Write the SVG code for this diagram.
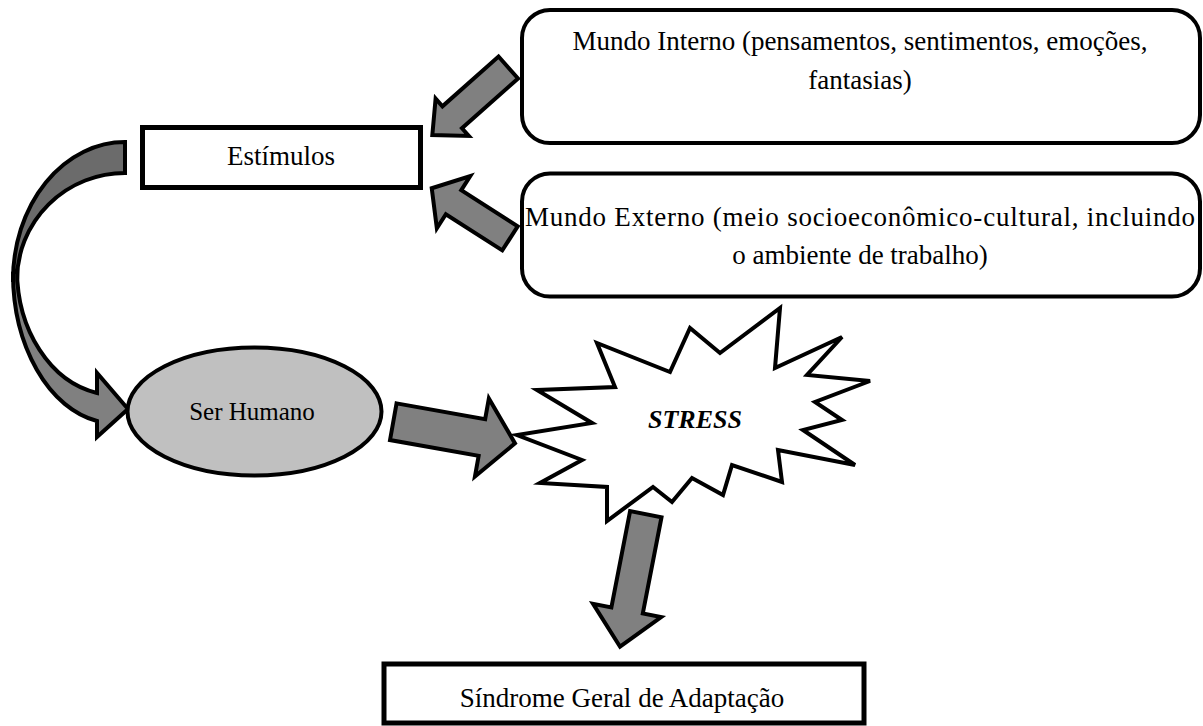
<svg xmlns="http://www.w3.org/2000/svg" width="1203" height="726" viewBox="0 0 1203 726">
  <style>
    .box { fill: #ffffff; stroke: #000000; stroke-width: 4; }
    .sq { fill: #ffffff; stroke: #000000; stroke-width: 5; }
    .arrow { fill: #808080; stroke: #000000; stroke-width: 4; stroke-linejoin: miter; }
    .arrow-back { fill: #6b6b6b; stroke: #000000; stroke-width: 4; }
    .lbl { font-family: "Liberation Serif", "Times New Roman", serif; font-size: 27px; fill: #000000; text-anchor: middle; }
    .burst-lbl { font-family: "Liberation Serif", "Times New Roman", serif; font-size: 26px; font-weight: bold; font-style: italic; fill: #000000; text-anchor: middle; }
  </style>
  <rect width="1203" height="726" fill="#ffffff"/>

  <!-- connectors: block arrows -->
  <g id="connectors">
    <!-- curved arrow from Estímulos down to Ser Humano -->
    <path class="arrow-back" d="M125,142 A112,138 0 0 0 13,280 L17,280 A108,107 0 0 1 125,173 Z"/>
    <path class="arrow" d="M13,273 A102,150 0 0 0 97,421 L97,437 L128,409 L97,373 L97,393 A98,125 0 0 1 17,270 Z"/>
    <!-- Mundo Interno -> Estímulos -->
    <polygon class="arrow" transform="translate(508.3,67.5) rotate(138.4)" points="0,-14.7 75,-14.7 75,-25 101.6,0 75,25 75,14.7 0,14.7"/>
    <!-- Mundo Externo -> Estímulos -->
    <polygon class="arrow" transform="translate(510,238.3) rotate(212.6)" points="0,-14.3 67,-14.3 67,-31 92.9,0 67,31 67,14.3 0,14.3"/>
    <!-- Ser Humano -> STRESS -->
    <polygon class="arrow" transform="translate(393.3,421.7) rotate(10.1)" points="0,-18.6 90,-18.6 90,-39.7 123.6,0 90,39.7 90,18.6 0,18.6"/>
    <!-- STRESS -> Síndrome Geral de Adaptação -->
    <polygon class="arrow" transform="translate(645.8,514.2) rotate(101)" points="0,-16 98,-16 98,-34.7 135,0 98,34.7 98,16 0,16"/>
  </g>

  <g id="mundo-interno">
    <rect class="box" x="522" y="10" width="678" height="133" rx="28" ry="28"/>
    <text class="lbl" x="860" y="50">Mundo Interno (pensamentos, sentimentos, emoções,</text>
    <text class="lbl" x="860" y="89">fantasias)</text>
  </g>

  <g id="mundo-externo">
    <rect class="box" x="522" y="173.5" width="678" height="123" rx="28" ry="28"/>
    <text class="lbl" x="860" y="226" textLength="670" lengthAdjust="spacing">Mundo Externo (meio socioeconômico-cultural, incluindo</text>
    <text class="lbl" x="860" y="264">o ambiente de trabalho)</text>
  </g>

  <g id="estimulos">
    <rect class="sq" x="142.5" y="127.5" width="278" height="60"/>
    <text class="lbl" x="281" y="165">Estímulos</text>
  </g>

  <g id="ser-humano">
    <ellipse cx="254.5" cy="411.5" rx="127" ry="64" fill="#c0c0c0" stroke="#000000" stroke-width="4"/>
    <text class="lbl" x="252" y="420" style="font-size:25px">Ser Humano</text>
  </g>

  <g id="stress">
    <polygon fill="#ffffff" stroke="#000000" stroke-width="4" stroke-linejoin="miter" points="780,308 775,368 842,337 807,375 870,381 815,402 842,420 803,430 855,465 778,450 782,482 732,465 723,495 692,478 672,502 653,487 607,521 607,487 540,483 582,460 517,435 592,423 537,390 615,387 597,343 670,372 690,328 720,353"/>
    <text class="burst-lbl" x="695" y="428">STRESS</text>
  </g>

  <g id="sindrome">
    <rect class="sq" x="384" y="664" width="480" height="59"/>
    <text class="lbl" x="622" y="707">Síndrome Geral de Adaptação</text>
  </g>
</svg>
